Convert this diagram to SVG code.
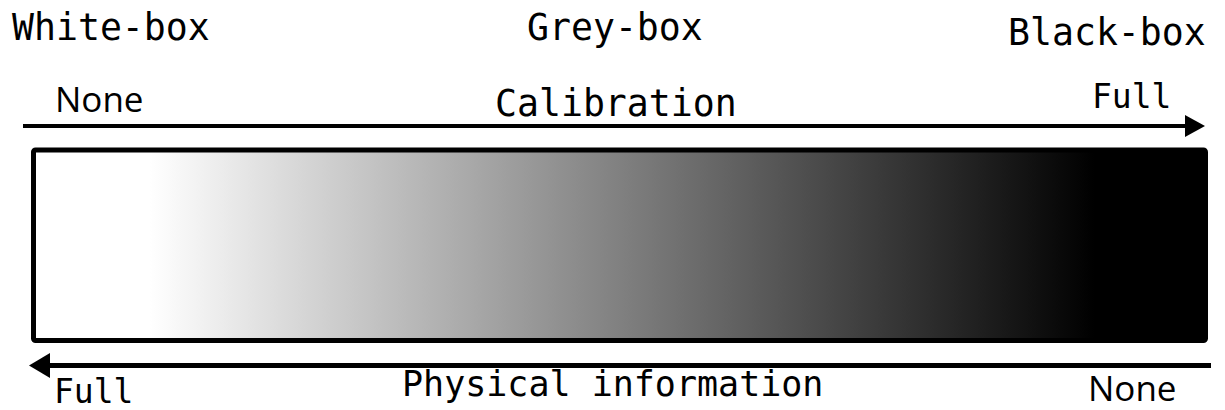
<svg xmlns="http://www.w3.org/2000/svg" width="1225" height="410" viewBox="0 0 1225 410">
<style>
.mono{font-family:"DejaVu Sans Mono","Liberation Mono",monospace;fill:#000}
.sans{font-family:"Open Sans","Noto Sans","Liberation Sans",sans-serif;fill:#000}
.big{font-size:36.5px}
.small{font-size:33px}
.line{stroke:#000;fill:none}
</style>
<defs>
<linearGradient id="g" gradientUnits="userSpaceOnUse" x1="150" y1="0" x2="1095" y2="0">
<stop offset="0" stop-color="#fff"/>
<stop offset="1" stop-color="#000"/>
</linearGradient>
</defs>
<g id="labels-top">
<text class="mono big" x="12" y="40">White-box</text>
<text class="mono big" x="527" y="40">Grey-box</text>
<text class="mono big" x="1008" y="45">Black-box</text>
</g>
<g id="connectors">
<line class="line" x1="23" y1="126" x2="1188" y2="126" stroke-width="4"/>
<polygon points="1205,126 1185,115 1185,137" fill="#000"/>
<line class="line" x1="46" y1="365.5" x2="1211" y2="365.5" stroke-width="5"/>
<polygon points="29,365.5 50,353 50,378" fill="#000"/>
</g>
<g id="scale-bar">
<rect x="33.5" y="150" width="1172" height="190.5" fill="url(#g)" stroke="#000" stroke-width="5" rx="2"/>
</g>
<g id="calibration">
<text class="sans" font-size="35" font-weight="500" x="55" y="112">None</text>
<text class="mono big" x="495" y="116">Calibration</text>
<text class="mono small" x="1092" y="108">Full</text>
</g>
<g id="physical-information">
<text class="mono small" x="54" y="403">Full</text>
<text class="mono" font-size="35px" x="402" y="396">Physical information</text>
<text class="sans" font-size="35" font-weight="500" x="1088" y="401">None</text>
</g>
</svg>
